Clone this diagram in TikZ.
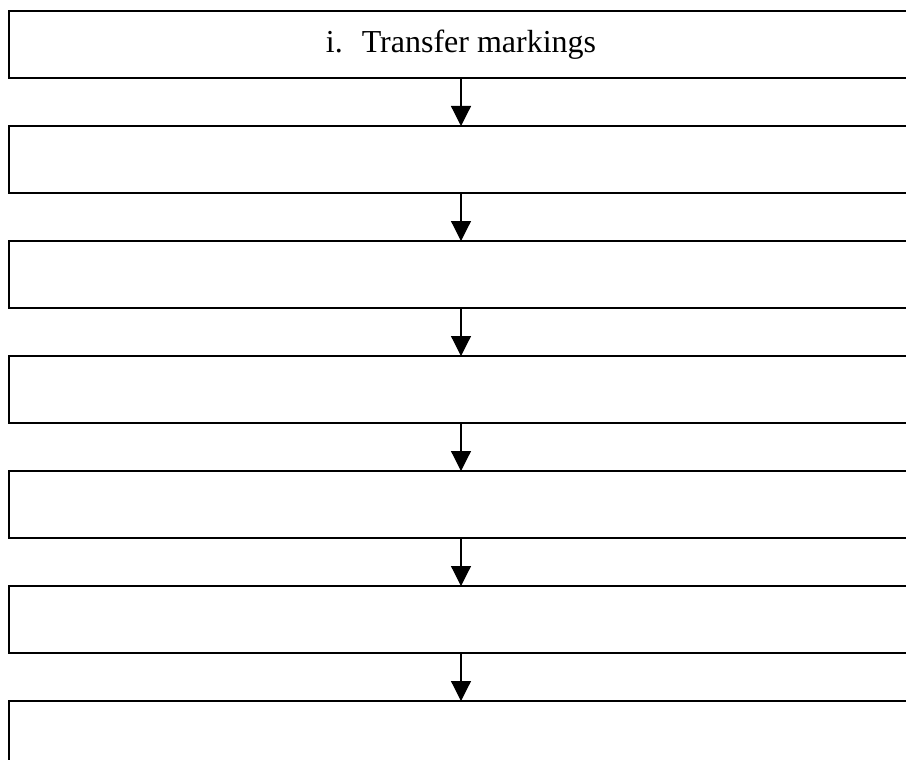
\documentclass[tikz,border=0pt]{standalone}
\usepackage{fontspec}
\setmainfont{Liberation Serif}
\usetikzlibrary{arrows.meta}
\usetikzlibrary{positioning}

\begin{document}
\begin{tikzpicture}[x=1pt,y=1pt,>={Triangle[length=20pt,width=20pt]},node distance=115pt,semithick]
 \tikzstyle{step box}=[rectangle,draw,line width=1.5pt,minimum width=904pt,minimum height=67pt,inner sep=0,outer sep=0]
 \tikzset{
 	flow arrow/.style={->,line width=1.2pt}
 }
 \useasboundingbox (0,0) rectangle (906,-760);
 \clip (0,0) rectangle (906,-760);

       \node[step box] (b1) at (461,-44.5) {\fontsize{32}{38}\selectfont i.\hspace{19pt}Transfer markings};
       \node[step box] (b2) [below of=b1] {};
       \node[step box] (b3) [below of=b2] {};
       \node[step box] (b4) [below of=b3] {};
       \node[step box] (b5) [below of=b4] {};
       \node[step box] (b6) [below of=b5] {};
       \node[step box] (b7) [below of=b6] {};

     \foreach \a/\b in {b1/b2,b2/b3,b3/b4,b4/b5,b5/b6,b6/b7}
       \path[flow arrow]  (\a) edge (\b);
 \end{tikzpicture}
\end{document}
